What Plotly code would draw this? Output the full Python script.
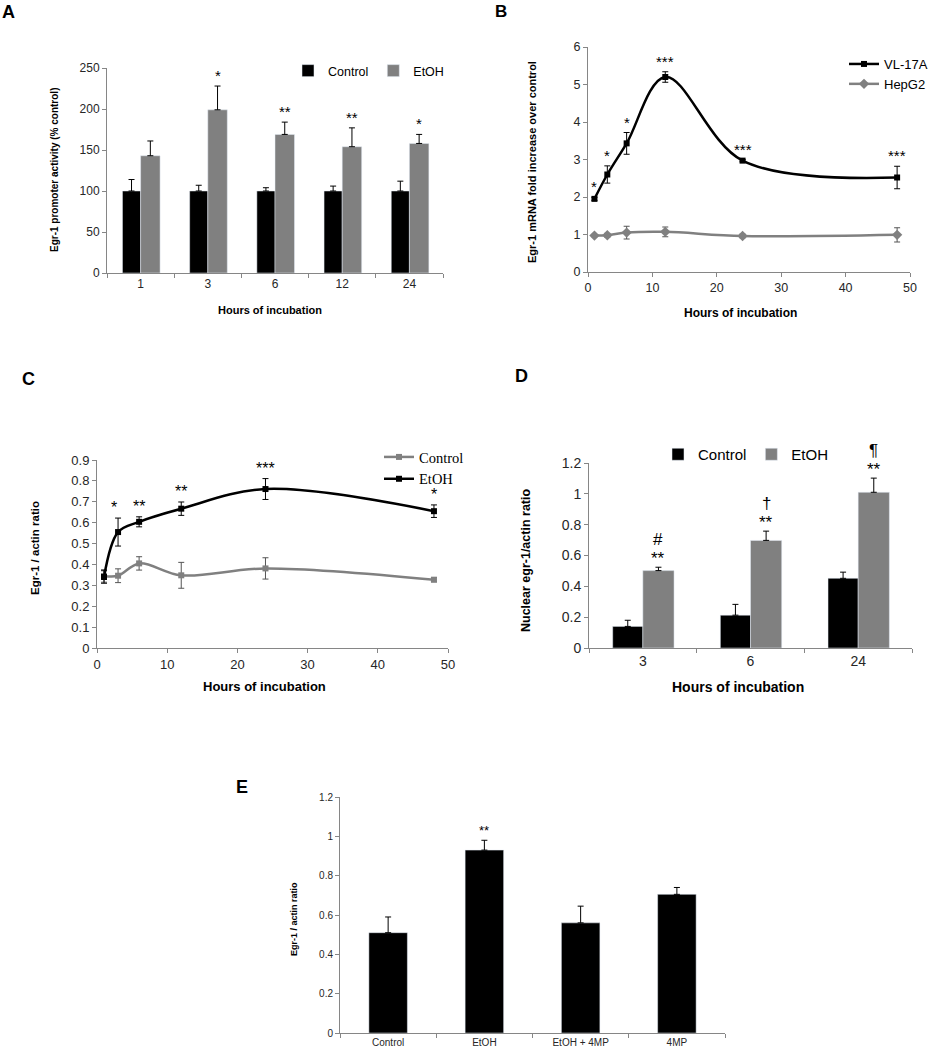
import plotly.graph_objects as go

# ---- data ----
# A: Egr-1 promoter activity (% control)
a_hours = ['1', '3', '6', '12', '24']
a_control = [100, 100, 100, 100, 100]
a_control_err = [14, 7, 4, 6, 12]
a_etoh = [143, 199, 169, 154, 158]
a_etoh_err = [18, 29, 15, 23, 11]
a_marks = ['', '*', '**', '**', '*']

# B: Egr-1 mRNA fold increase over control
b_hours = [1, 3, 6, 12, 24, 48]
b_vl17a = [1.95, 2.6, 3.43, 5.2, 2.97, 2.52]
b_vl17a_err = [0.04, 0.23, 0.29, 0.14, 0.03, 0.3]
b_hepg2 = [0.97, 0.98, 1.05, 1.07, 0.96, 0.99]
b_hepg2_err = [0.03, 0.05, 0.17, 0.13, 0.05, 0.19]
b_marks = ['*', '*', '*', '***', '***', '***']

# C: Egr-1 / actin ratio
c_hours = [1, 3, 6, 12, 24, 48]
c_control = [0.345, 0.346, 0.405, 0.348, 0.381, 0.327]
c_control_err = [0.03, 0.033, 0.032, 0.062, 0.051, 0.01]
c_etoh = [0.34, 0.555, 0.604, 0.667, 0.761, 0.655]
c_etoh_err = [0.03, 0.067, 0.024, 0.032, 0.05, 0.03]
c_marks = ['', '*', '**', '**', '***', '*']

# D: Nuclear egr-1/actin ratio
d_hours = ['3', '6', '24']
d_control = [0.14, 0.213, 0.452]
d_control_err = [0.04, 0.07, 0.04]
d_etoh = [0.502, 0.698, 1.01]
d_etoh_err = [0.022, 0.06, 0.092]
d_stars = ['**', '**', '**']
d_symbols = ['#', '†', '¶']

# E: Egr-1 / actin ratio by treatment
e_groups = ['Control', 'EtOH', 'EtOH + 4MP', '4MP']
e_ratio = [0.51, 0.93, 0.56, 0.705]
e_err = [0.08, 0.05, 0.085, 0.035]
e_marks = ['', '**', '', '']

W, H = 932, 1050
SANS = 'Liberation Sans, Arial, sans-serif'
SERIF = 'Liberation Serif, Times New Roman, serif'
GREY = '#808080'
AXIS = '#868686'


def fx(px):
    return px / W


def fy(py):
    return 1 - py / H


def up_err(vals):
    return dict(type='data', array=vals, arrayminus=[0] * len(vals), symmetric=False,
                color='black', thickness=1, width=3)


def sym_err(vals, color):
    return dict(type='data', array=vals, color=color, thickness=1, width=3)


fig = go.Figure()

# ---- A ----
fig.add_trace(go.Bar(x=a_hours, y=a_control, name='Control', marker_color='black',
                     width=0.27, offset=-0.27, error_y=up_err(a_control_err),
                     xaxis='x', yaxis='y', legend='legend'))
fig.add_trace(go.Bar(x=a_hours, y=a_etoh, name='EtOH', marker_color=GREY,
                     width=0.29, offset=0, error_y=up_err(a_etoh_err),
                     xaxis='x', yaxis='y', legend='legend'))

# ---- B ----
fig.add_trace(go.Scatter(x=b_hours, y=b_vl17a, name='VL-17A', mode='lines+markers',
                         line=dict(color='black', width=2.5, shape='spline', smoothing=1),
                         marker=dict(symbol='square', size=6, color='black'),
                         error_y=sym_err(b_vl17a_err, 'black'),
                         xaxis='x2', yaxis='y2', legend='legend2'))
fig.add_trace(go.Scatter(x=b_hours, y=b_hepg2, name='HepG2', mode='lines+markers',
                         line=dict(color=GREY, width=2.5, shape='spline', smoothing=1),
                         marker=dict(symbol='diamond', size=8, color=GREY),
                         error_y=sym_err(b_hepg2_err, '#555555'),
                         xaxis='x2', yaxis='y2', legend='legend2'))

# ---- C ----
fig.add_trace(go.Scatter(x=c_hours, y=c_control, name='Control', mode='lines+markers',
                         line=dict(color=GREY, width=2.5, shape='spline', smoothing=1),
                         marker=dict(symbol='square', size=6, color=GREY),
                         error_y=sym_err(c_control_err, '#555555'),
                         xaxis='x3', yaxis='y3', legend='legend3'))
fig.add_trace(go.Scatter(x=c_hours, y=c_etoh, name='EtOH', mode='lines+markers',
                         line=dict(color='black', width=2.5, shape='spline', smoothing=1),
                         marker=dict(symbol='square', size=6, color='black'),
                         error_y=sym_err(c_etoh_err, 'black'),
                         xaxis='x3', yaxis='y3', legend='legend3'))

# ---- D ----
fig.add_trace(go.Bar(x=d_hours, y=d_control, name='Control', marker_color='black',
                     width=0.28, offset=-0.28, error_y=up_err(d_control_err),
                     xaxis='x4', yaxis='y4', legend='legend4'))
fig.add_trace(go.Bar(x=d_hours, y=d_etoh, name='EtOH', marker_color=GREY,
                     width=0.29, offset=0, error_y=up_err(d_etoh_err),
                     xaxis='x4', yaxis='y4', legend='legend4'))

# ---- E ----
fig.add_trace(go.Bar(x=e_groups, y=e_ratio, marker_color='black', width=0.4,
                     error_y=up_err(e_err), showlegend=False,
                     xaxis='x5', yaxis='y5'))


def axis(dom, size, **kw):
    d = dict(domain=dom, showline=True, linecolor=AXIS, linewidth=1, ticks='outside',
             ticklen=4, tickcolor=AXIS, showgrid=False, zeroline=False, fixedrange=True,
             tickfont=dict(family=SANS, size=size, color='#262626'))
    d.update(kw)
    return d


layout = dict(
    width=W, height=H, margin=dict(l=0, r=0, t=0, b=0, autoexpand=False),
    paper_bgcolor='white', plot_bgcolor='white', barmode='overlay',
    font=dict(family=SANS, color='black'),
    xaxis=axis([fx(107), fx(443)], 12, anchor='y', tickson='boundaries'),
    yaxis=axis([fy(273), fy(68)], 12, anchor='x', range=[0, 250], dtick=50),
    xaxis2=axis([fx(588), fx(910)], 12.5, anchor='y2', range=[0, 50], dtick=10),
    yaxis2=axis([fy(272), fy(47)], 12.5, anchor='x2', range=[0, 6], dtick=1),
    xaxis3=axis([fx(97), fx(448)], 13, anchor='y3', range=[0, 50], dtick=10),
    yaxis3=axis([fy(648), fy(460)], 13, anchor='x3', range=[0, 0.9], dtick=0.1),
    xaxis4=axis([fx(589), fx(912)], 14, anchor='y4', tickson='boundaries'),
    yaxis4=axis([fy(648), fy(463)], 14, anchor='x4', range=[0, 1.2], dtick=0.2),
    xaxis5=axis([fx(340), fx(725)], 10, anchor='y5', tickson='boundaries'),
    yaxis5=axis([fy(1033), fy(797)], 10, anchor='x5', range=[0, 1.2], dtick=0.2),
    legend=dict(orientation='h', x=fx(288), y=fy(56), xanchor='left', yanchor='top',
                font=dict(family=SANS, size=12.5), itemwidth=30, bgcolor='rgba(0,0,0,0)'),
    legend2=dict(x=fx(844), y=fy(49), xanchor='left', yanchor='top',
                 font=dict(family=SANS, size=13), itemwidth=30, bgcolor='rgba(0,0,0,0)'),
    legend3=dict(x=fx(379), y=fy(441), xanchor='left', yanchor='top',
                 font=dict(family=SERIF, size=14.5), itemwidth=30, bgcolor='rgba(0,0,0,0)'),
    legend4=dict(orientation='h', x=fx(658), y=fy(438), xanchor='left', yanchor='top',
                 font=dict(family=SANS, size=15), itemwidth=30, bgcolor='rgba(0,0,0,0)'),
)

ann = []


def star(x, y, text, xr, yr, size=15, shift=0):
    ann.append(dict(x=x, y=y, xref=xr, yref=yr, text=text, showarrow=False,
                    yanchor='bottom', yshift=shift, font=dict(family=SANS, size=size)))


for i, m in enumerate(a_marks):
    if m:
        star(i + 0.145, a_etoh[i] + a_etoh_err[i], m, 'x', 'y')
for i, m in enumerate(b_marks):
    star(b_hours[i], b_vl17a[i] + b_vl17a_err[i], m, 'x2', 'y2')
for i, m in enumerate(c_marks):
    if m:
        xo = c_hours[i] - 0.6 if i == 1 else c_hours[i]
        star(xo, c_etoh[i] + c_etoh_err[i], m, 'x3', 'y3', size=16)
for i in range(len(d_hours)):
    top = d_etoh[i] + d_etoh_err[i]
    star(i + 0.145, top, d_stars[i], 'x4', 'y4', size=17, shift=-3)
    star(i + 0.145, top, d_symbols[i], 'x4', 'y4', size=17, shift=16)
for i, m in enumerate(e_marks):
    if m:
        star(i, e_ratio[i] + e_err[i], m, 'x5', 'y5', size=13)


def text(px, py, t, size, angle=0):
    ann.append(dict(x=fx(px), y=fy(py), xref='paper', yref='paper', text=t,
                    showarrow=False, textangle=angle, xanchor='center', yanchor='middle',
                    font=dict(family=SANS, size=size, color='black')))


# panel letters
text(8, 12, '<b>A</b>', 18)
text(501, 11, '<b>B</b>', 17)
text(28, 379, '<b>C</b>', 18)
text(521, 376, '<b>D</b>', 18)
text(242, 787, '<b>E</b>', 18)

# axis titles
text(270, 310, '<b>Hours of incubation</b>', 11)
text(55, 170, '<b>Egr-1 promoter activity (% control)</b>', 10, -90)
text(740, 313, '<b>Hours of incubation</b>', 12)
text(532, 162, '<b>Egr-1 mRNA fold increase over control</b>', 11, -90)
text(264, 686, '<b>Hours of incubation</b>', 13)
text(35, 548, '<b>Egr-1 / actin ratio</b>', 11.5, -90)
text(738, 687, '<b>Hours of incubation</b>', 14)
text(526, 561, '<b>Nuclear egr-1/actin ratio</b>', 12.5, -90)
text(294, 919, '<b>Egr-1 / actin ratio</b>', 9, -90)

layout['annotations'] = ann
fig.update_layout(layout)

# drop the default page margin so the figure sits at the window's corner
fig.write_html('out.html', config={'displayModeBar': False},
               post_script="document.body.style.margin='0';")
